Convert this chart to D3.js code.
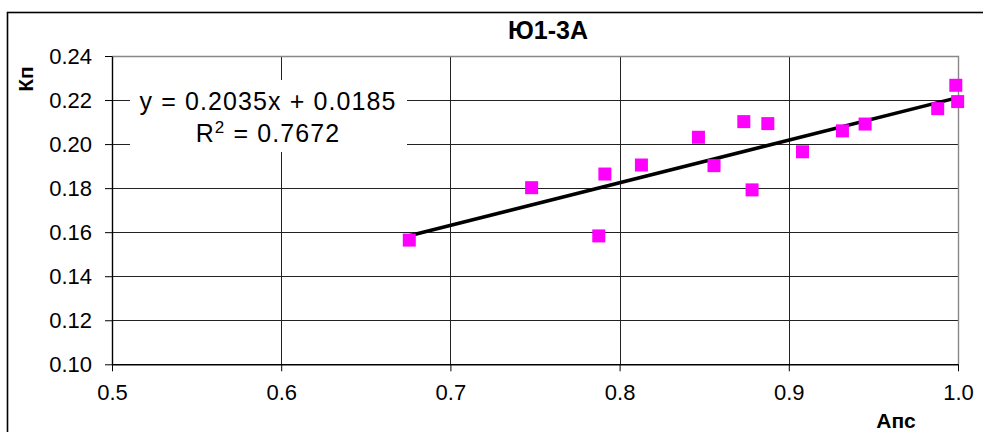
<!DOCTYPE html>
<meta charset="utf-8">
<html>
<script src="https://d3js.org/d3.v7.min.js"></script>
<style>
  body { margin: 0; background: #fff; }
  text { font-family: "Liberation Sans", Arial, sans-serif; fill: #000; }
</style>
<body>
<div id="chart"></div>
<script>

// data
const apsValues = [0.6757, 0.7480, 0.7913, 0.7877, 0.8129, 0.8466, 0.8558, 0.8734,
                   0.8876, 0.8783, 0.9081, 0.9317, 0.9451, 0.9880, 0.9987, 0.9998];
const kpValues  = [0.1564, 0.1802, 0.1864, 0.1583, 0.1905, 0.2031, 0.1902, 0.2102,
                   0.2093, 0.1792, 0.1965, 0.2060, 0.2091, 0.2161, 0.2267, 0.2193];
const xTicks = [0.5, 0.6, 0.7, 0.8, 0.9, 1.0];
const yTicks = [0.10, 0.12, 0.14, 0.16, 0.18, 0.20, 0.22, 0.24];
const titleText = "Ю1-3А";
const xTitle = "Апс";
const yTitle = "Кп";
const eqText = "y = 0.2035x + 0.0185";
const r2Value = "0.7672";

const width = 983, height = 432;
const plot = {left: 112, right: 958, top: 56, bottom: 364.3};

const svg = d3.select("#chart")
  .append("svg")
    .attr("width", width)
    .attr("height", height);

// outer chart frame (right and bottom edges are off the picture)
svg.append("rect")
  .attr("x", 7.5).attr("y", 12.5)
  .attr("width", 1000).attr("height", 450)
  .attr("fill", "#fff")
  .attr("stroke", "#000")
  .attr("stroke-width", 1.6);

const x = d3.scaleLinear().domain([0.5, 1.0]).range([plot.left, plot.right]);
const y = d3.scaleLinear().domain([0.10, 0.24]).range([plot.bottom, plot.top]);

// grid
svg.append("g")
  .selectAll("line")
  .data(yTicks.slice(1, -1))
  .join("line")
    .attr("x1", plot.left).attr("x2", plot.right)
    .attr("y1", d => Math.round(y(d)) + 0.5).attr("y2", d => Math.round(y(d)) + 0.5)
    .attr("stroke", "#222");
svg.append("g")
  .selectAll("line")
  .data(xTicks.slice(1, -1))
  .join("line")
    .attr("y1", plot.top).attr("y2", plot.bottom)
    .attr("x1", d => Math.round(x(d)) + 0.5).attr("x2", d => Math.round(x(d)) + 0.5)
    .attr("stroke", "#222");

// plot border, top and right in gray
svg.append("path")
  .attr("d", `M${plot.left},${plot.top + 0.5}H${plot.right + 0.5}V${plot.bottom}`)
  .attr("fill", "none")
  .attr("stroke", "#888")
  .attr("stroke-width", 1.4);

// axes
const xAxis = svg.append("g")
  .attr("transform", `translate(0, ${plot.bottom})`)
  .call(d3.axisBottom(x).tickValues(xTicks).tickFormat(d3.format(".1f")).tickSizeInner(7).tickSizeOuter(0).tickPadding(8));
const yAxis = svg.append("g")
  .attr("transform", `translate(${plot.left}, 0)`)
  .call(d3.axisLeft(y).tickValues(yTicks).tickFormat(d3.format(".2f")).tickSizeInner(7).tickSizeOuter(0).tickPadding(13));

[xAxis, yAxis].forEach(a => {
  a.select(".domain").attr("stroke", "#000").attr("stroke-width", 1.4);
  a.selectAll(".tick line").attr("stroke", "#000");
  a.selectAll(".tick text")
    .style("font-family", '"Liberation Sans", Arial, sans-serif')
    .style("font-size", "22px")
    .attr("fill", "#000");
});
xAxis.selectAll(".tick text").attr("dy", "0.95em");

// equation label box
svg.append("rect")
  .attr("x", 130).attr("y", 80)
  .attr("width", 277).attr("height", 72)
  .attr("fill", "#fff");

const eq = svg.append("text")
  .attr("text-anchor", "middle")
  .style("font-size", "25px")
  .style("letter-spacing", "1.1px");
eq.append("tspan").attr("x", 268).attr("y", 110).text(eqText);
const r2 = eq.append("tspan").attr("x", 268).attr("y", 142).text("R");
r2.append("tspan").attr("dy", -9).style("font-size", "17px").text("2");
r2.append("tspan").attr("dy", 9).text(" = " + r2Value);

// linear trend from the points
const mx = d3.mean(apsValues), my = d3.mean(kpValues);
const slope = d3.sum(apsValues, (v, i) => (v - mx) * (kpValues[i] - my)) /
              d3.sum(apsValues, v => (v - mx) ** 2);
const intercept = my - slope * mx;
const xExt = d3.extent(apsValues);

svg.append("line")
  .attr("x1", x(xExt[0])).attr("y1", y(slope * xExt[0] + intercept))
  .attr("x2", x(xExt[1])).attr("y2", y(slope * xExt[1] + intercept))
  .attr("stroke", "#000")
  .attr("stroke-width", 3.5);

// points
svg.append("g")
  .selectAll("rect")
  .data(apsValues.map((v, i) => [v, kpValues[i]]))
  .join("rect")
    .attr("x", d => x(d[0]) - 6.5)
    .attr("y", d => y(d[1]) - 6.5)
    .attr("width", 13).attr("height", 13)
    .attr("fill", "#ff00ff");

// titles
svg.append("text")
  .attr("x", 548).attr("y", 39)
  .attr("text-anchor", "middle")
  .style("font-size", "25px").style("font-weight", "bold")
  .text(titleText);

svg.append("text")
  .attr("x", 896).attr("y", 428)
  .attr("text-anchor", "middle")
  .style("font-size", "21px").style("font-weight", "bold")
  .text(xTitle);

svg.append("text")
  .attr("transform", "translate(33, 79) rotate(-90)")
  .attr("text-anchor", "middle")
  .style("font-size", "21px").style("font-weight", "bold")
  .text(yTitle);

</script>
</body>
</html>
